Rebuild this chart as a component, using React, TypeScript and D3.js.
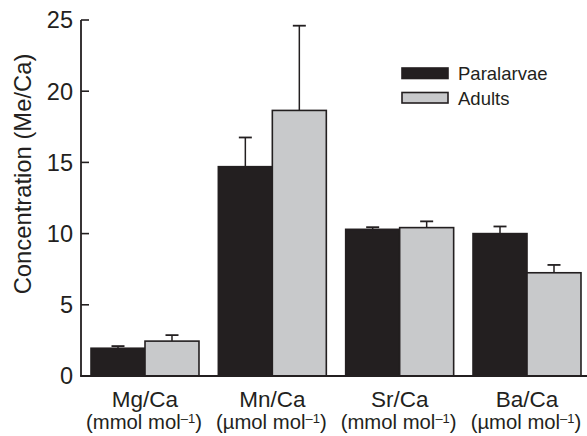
import React from "react";
import * as d3 from "d3";

const categories = ["Mg/Ca", "Mn/Ca", "Sr/Ca", "Ba/Ca"];
const unitPrefix = ["(mmol mol", "(\u00b5mol mol", "(mmol mol", "(\u00b5mol mol"];
const seriesNames = ["Paralarvae", "Adults"];
const paralarvae = [1.95, 14.7, 10.3, 10.0];
const paralarvaeErr = [0.15, 2.05, 0.15, 0.5];
const adults = [2.45, 18.65, 10.42, 7.25];
const adultsErr = [0.42, 5.95, 0.44, 0.55];
const yTicks = [0, 5, 10, 15, 20, 25];

const colors = ["#231f20", "#c8c9cb"];
const FONT = "'Liberation Sans', Arial, Helvetica, sans-serif";

export default function App() {
  const W = 587, H = 436;
  const axisX = 81;
  const y = d3.scaleLinear().domain([0, 25]).range([376, 20]);
  const x0 = d3.scaleBand<string>().domain(categories).range([81, 591]).paddingInner(0.152).paddingOuter(0.0786);
  const x1 = d3.scaleBand<string>().domain(seriesNames).range([0, x0.bandwidth()]).padding(0);
  const values = [paralarvae, adults];
  const errs = [paralarvaeErr, adultsErr];

  return (
    <svg width={W} height={H} style={{ position: "absolute", left: 0, top: 0, fontFamily: FONT }}>
      <rect width={W} height={H} fill="#fff" />
      {categories.map((c, i) => (
        <g key={c}>
          {seriesNames.map((s, j) => {
            const bx = x0(c)! + x1(s)!;
            const bw = x1.bandwidth();
            const v = values[j][i];
            const e = errs[j][i];
            const cx = bx + bw / 2;
            return (
              <g key={s}>
                <line x1={cx} x2={cx} y1={y(v)} y2={y(v + e)} stroke="#231f20" strokeWidth={1.5} />
                <line x1={cx - 6.5} x2={cx + 6.5} y1={y(v + e)} y2={y(v + e)} stroke="#231f20" strokeWidth={1.8} />
                <rect x={bx} y={y(v)} width={bw} height={y(0) - y(v)} fill={colors[j]} stroke="#231f20" strokeWidth={1.6} />
              </g>
            );
          })}
        </g>
      ))}
      <line x1={axisX} x2={axisX} y1={y(25)} y2={y(0)} stroke="#231f20" strokeWidth={1.8} />
      <line x1={axisX - 0.9} x2={587} y1={y(0)} y2={y(0)} stroke="#231f20" strokeWidth={1.8} />
      {yTicks.map((t) => (
        <g key={t}>
          <line x1={axisX} x2={axisX + 8} y1={y(t)} y2={y(t)} stroke="#231f20" strokeWidth={1.6} />
          <text x={73} y={y(t)} dy="0.36em" textAnchor="end" fontSize={23.5} fill="#231f20">{t}</text>
        </g>
      ))}
      <text transform={`translate(31,174) rotate(-90)`} textAnchor="middle" fontSize={23.8} fill="#231f20">
        Concentration (Me/Ca)
      </text>
      {categories.map((c, i) => {
        const cx = x0(c)! + x0.bandwidth() / 2;
        return (
          <g key={c}>
            <text x={cx} y={407} textAnchor="middle" fontSize={22.5} fill="#231f20">{c}</text>
            <text x={cx - 1} y={429} textAnchor="middle" fontSize={20.3} fill="#231f20">
              {unitPrefix[i]}
              <tspan fontSize={13} dy={-6}>{"\u20131"}</tspan>
              <tspan dy={6}>)</tspan>
            </text>
          </g>
        );
      })}
      {seriesNames.map((s, j) => (
        <g key={s} transform={`translate(402,${68 + j * 24.5})`}>
          <rect x={0} y={0} width={46} height={10.5} fill={colors[j]} stroke="#231f20" strokeWidth={1.6} />
          <text x={56} y={5.5} dy="0.36em" fontSize={18.5} fill="#231f20">{s}</text>
        </g>
      ))}
    </svg>
  );
}
